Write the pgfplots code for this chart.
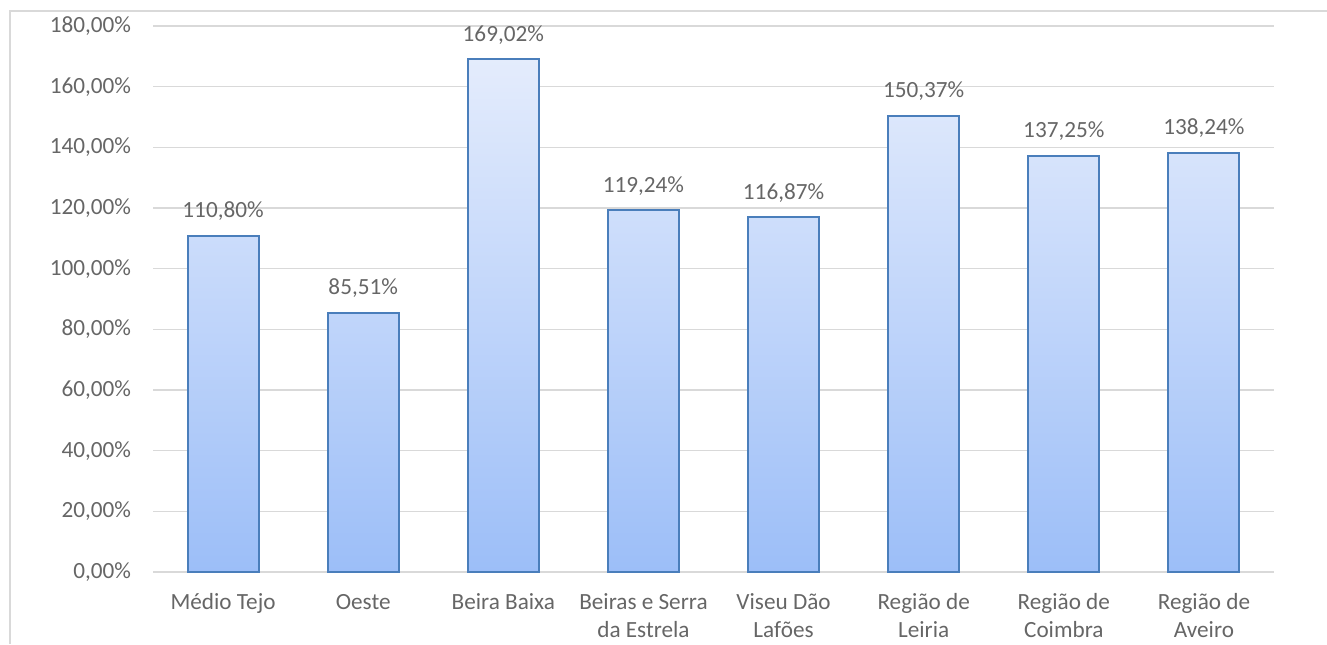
\documentclass[border=0pt]{standalone}
\usepackage{fontspec}
\setmainfont{Carlito}
\usepackage{pgfplots}
\pgfplotsset{compat=1.18}
\definecolor{txt}{HTML}{666666}
\definecolor{gridc}{HTML}{D9D9D9}
\definecolor{edge}{HTML}{4A7EBB}
\definecolor{topc}{HTML}{E4ECFC}
\definecolor{botc}{HTML}{9CBEF8}
\newcommand{\lblfont}{\fontsize{11.6}{13.9}\selectfont}
\begin{document}
\begin{tikzpicture}
\useasboundingbox (0,0) rectangle (663.5pt,322pt);
\draw[gridc, line width=0.75pt] (5pt,0pt) -- (5pt,316.5pt) -- (663.5pt,316.5pt);
\begin{axis}[
  at={(76.5pt,36pt)}, anchor=south west,
  scale only axis, width=560.5pt, height=273pt,
  xmin=-0.5, xmax=7.5, ymin=0, ymax=180,
  ybar, bar width=35.5pt,
  axis line style={draw=none},
  axis x line*=bottom,
  ytick={0,20,...,180},
  xtick={0,...,7},
  xticklabels={{\strut Médio Tejo},{\strut Oeste},{\strut Beira Baixa},{\strut Beiras e Serra\\da Estrela},{\strut Viseu Dão\\Lafões},{\strut Região de\\Leiria},{\strut Região de\\Coimbra},{\strut Região de\\Aveiro}},
  major tick length=0pt,
  tick style={draw=none},
  ymajorgrids, grid style={gridc, line width=0.75pt},
  /pgf/number format/assume math mode=true,
  yticklabel={\pgfmathprintnumber[fixed,fixed zerofill,precision=2,use comma]{\tick}\%},
  yticklabel style={font=\lblfont, text=txt, anchor=east, xshift=-7.5pt},
  xticklabel style={font=\lblfont, text=txt, align=center, anchor=north, yshift=-5.6pt},
  nodes near coords={\pgfmathprintnumber[fixed,fixed zerofill,precision=2,use comma]{\pgfplotspointmeta}\%},
  nodes near coords style={font=\lblfont, text=txt, anchor=base, yshift=9pt},
  clip=false,
]
\draw[gridc, line width=0.9pt] (axis cs:-0.5,0) -- (axis cs:7.5,0);
\addplot[draw=edge, line width=1pt, top color=topc, bottom color=botc] coordinates {
  (0,110.80) (1,85.51) (2,169.02) (3,119.24) (4,116.87) (5,150.37) (6,137.25) (7,138.24)
};
\end{axis}
\end{tikzpicture}
\end{document}
